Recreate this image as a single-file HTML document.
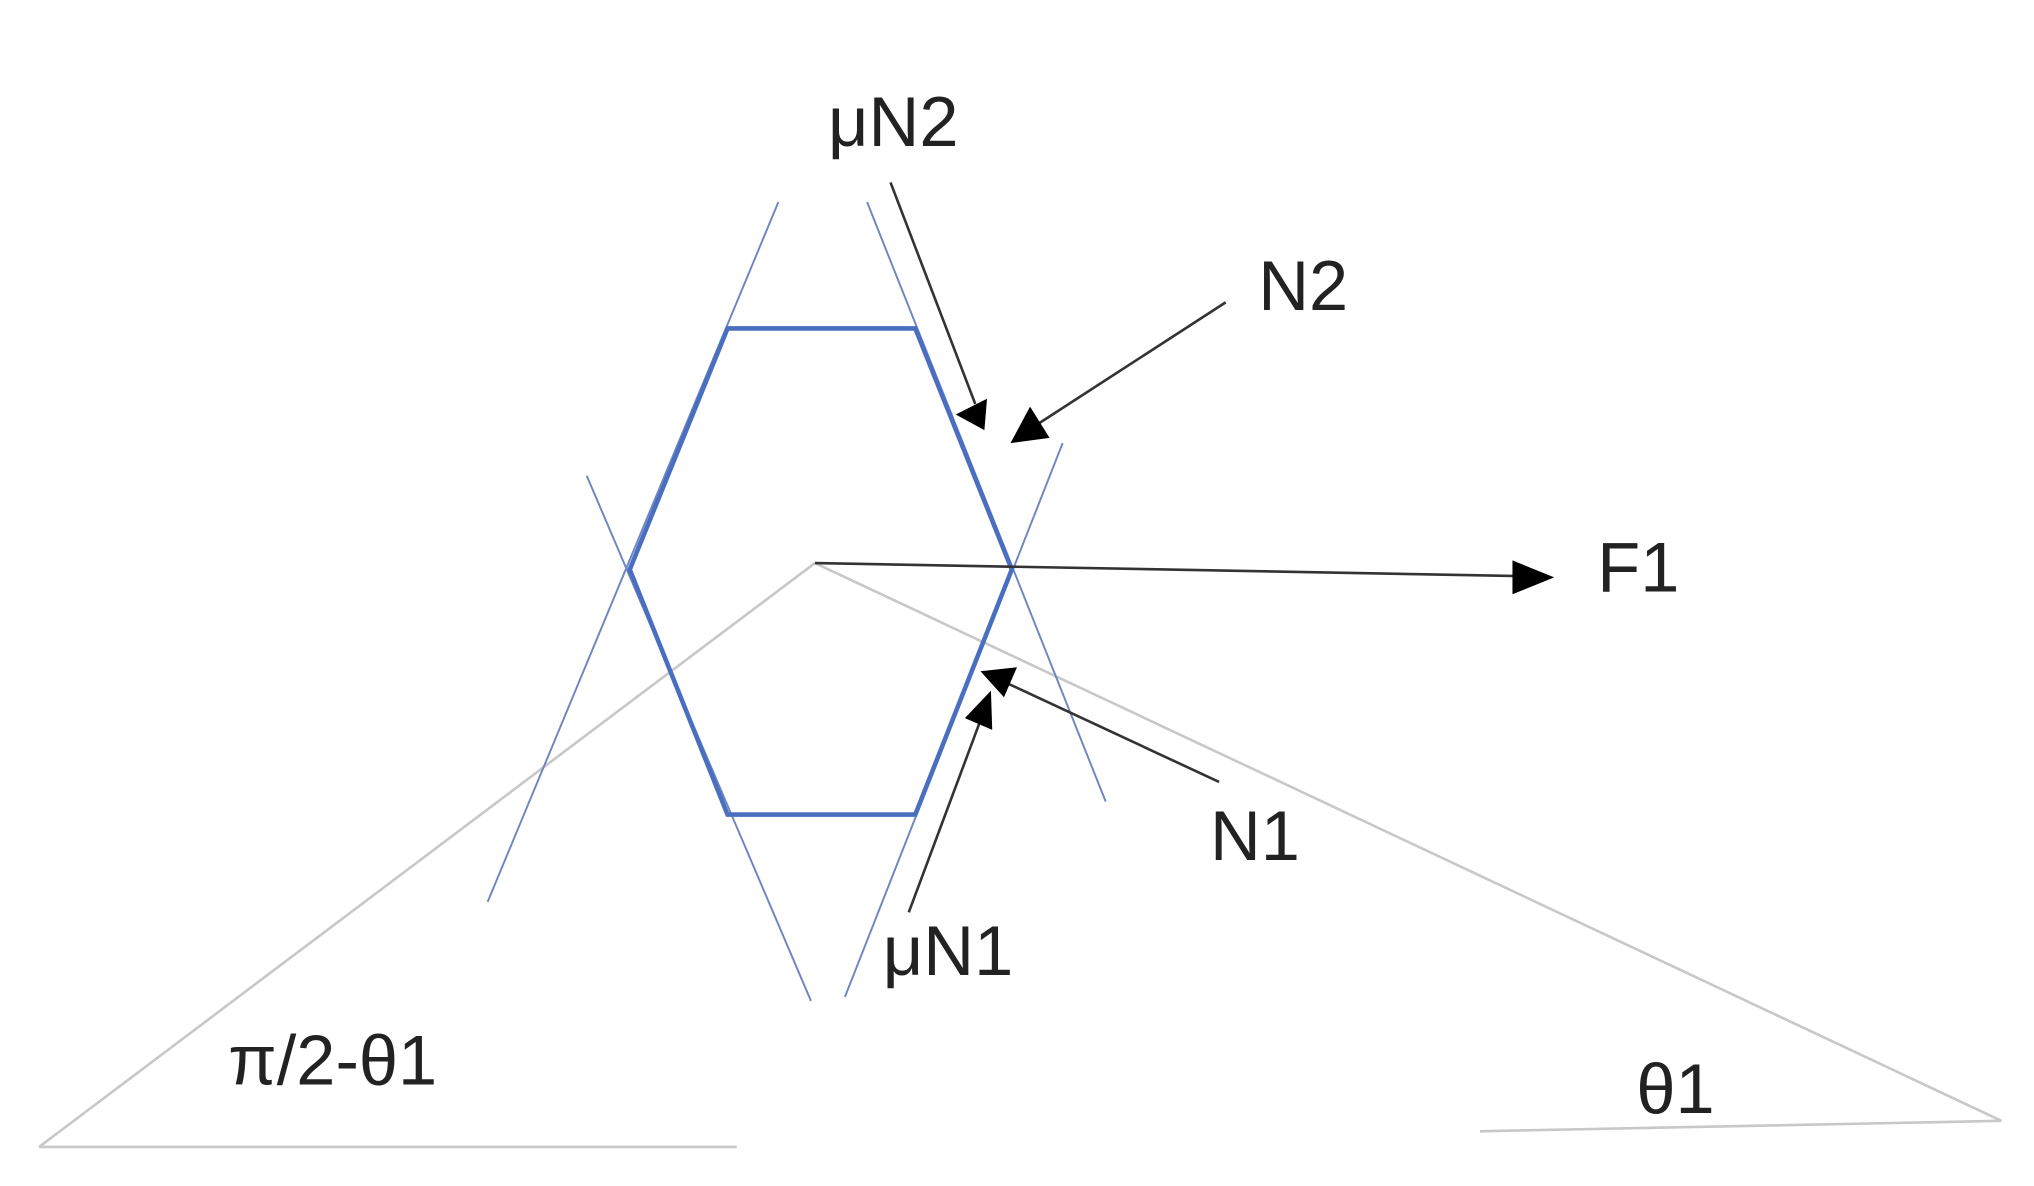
<!DOCTYPE html>
<html><head><meta charset="utf-8"><style>
html,body{margin:0;padding:0;background:#fff;}
svg{display:block;}
text{font-family:"Liberation Sans","DejaVu Sans",sans-serif;font-size:54px;fill:#222;}
</style></head><body>
<svg width="2034" height="1186" viewBox="0 0 1560 910" preserveAspectRatio="none" xmlns="http://www.w3.org/2000/svg">
<g stroke="#c8c8c8" stroke-width="2" fill="none">
<line x1="625" y1="432" x2="30" y2="880"/>
<line x1="625" y1="432" x2="1535" y2="860"/>
<line x1="30" y1="880" x2="565" y2="880"/>
<line x1="1135" y1="868" x2="1535" y2="860"/>
</g>
<g stroke="#6f86c0" stroke-width="1.5" fill="none">
<line x1="597" y1="155" x2="374" y2="692"/>
<line x1="450" y1="365" x2="622" y2="768"/>
<line x1="665" y1="155" x2="848" y2="615"/>
<line x1="815" y1="340" x2="648" y2="765"/>
</g>
<polygon points="558,252 702,252 776,437 702,625 558,625 483,437" fill="none" stroke="#4a6fc0" stroke-width="3.5"/>
<g stroke="#333" stroke-width="2" fill="none">
<line x1="625" y1="432" x2="1165" y2="442"/>
<line x1="940" y1="232" x2="795" y2="326"/>
<line x1="683" y1="140" x2="748" y2="310"/>
<line x1="935" y1="600" x2="772" y2="524"/>
<line x1="697" y1="700" x2="753" y2="550"/>
</g>
<g fill="#000">
<polygon points="1192,443 1160,430 1160,456"/>
<polygon points="775,340 790,312 805,336"/>
<polygon points="755,330 733,318 757,306"/>
<polygon points="752,515 780,512 770,535"/>
<polygon points="760,530 761,560 740,551"/>
</g>
<text x="635" y="112">μN2</text>
<text x="965" y="238">N2</text>
<text x="1225" y="454">F1</text>
<text x="928" y="660">N1</text>
<text x="677" y="748">μN1</text>
<text x="175" y="832">π/2-θ1</text>
<text x="1255" y="854">θ1</text>
</svg>
</body></html>
